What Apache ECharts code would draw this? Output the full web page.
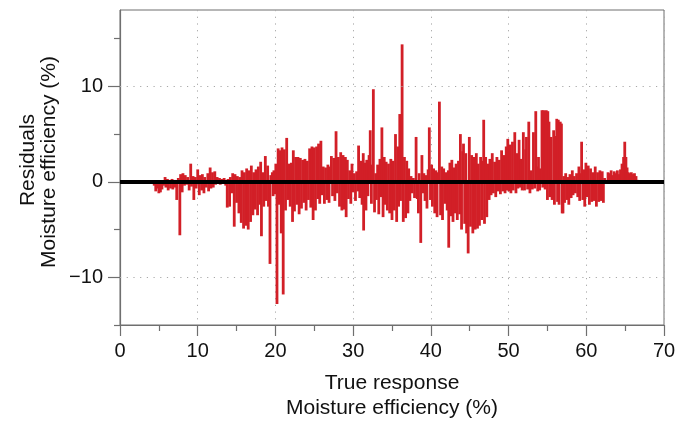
<!DOCTYPE html>
<html>
<head>
<meta charset="utf-8">
<script src="https://cdn.jsdelivr.net/npm/echarts@6/dist/echarts.min.js"></script>
<style>
  html, body { margin: 0; padding: 0; background: #fff; }
  #chart { width: 690px; height: 421px; }
</style>
</head>
<body>
<div id="chart"></div>
<script>
// Residual of each sample: [true response (%), residual (%)]
const residualPoints = [
  [4.4,-0.4],[4.6,-1.0],[4.8,-0.7],[5.0,-1.2],[5.2,-1.1],[5.4,-0.8],[5.6,-0.4],[5.8,0.5],[5.9,-0.6],[6.1,0.3],
  [6.2,-0.9],[6.4,0.2],[6.5,-0.7],[6.7,0.3],[6.8,-0.8],[7.0,0.2],[7.1,-0.6],[7.3,-1.9],[7.5,0.4],[7.7,-5.6],
  [7.8,0.8],[8.0,-1.1],[8.1,0.9],[8.3,-0.4],[8.4,0.7],[8.6,-0.3],[8.7,0.5],[8.9,-0.9],[9.1,1.9],[9.2,-0.5],
  [9.4,0.6],[9.5,-1.9],[9.7,0.5],[9.8,-0.7],[10.0,1.3],[10.2,-1.4],[10.3,0.7],[10.5,-0.9],[10.6,0.8],[10.8,-1.2],
  [10.9,0.5],[11.1,-0.6],[11.3,0.9],[11.4,-1.0],[11.6,1.5],[11.7,-0.7],[11.9,1.0],[12.0,-0.6],[12.2,1.1],[12.3,-0.3],
  [12.5,0.5],[12.6,-0.2],[12.8,0.4],[12.9,-0.3],[13.1,0.3],[13.2,-0.2],[13.4,0.4],[13.6,-0.4],[13.8,-2.7],[13.9,0.3],
  [14.1,-2.6],[14.2,0.5],[14.4,-1.2],[14.5,0.9],[14.7,-4.7],[14.8,0.8],[15.0,-2.2],[15.1,0.6],[15.3,-3.3],[15.4,0.5],
  [15.6,-4.3],[15.7,1.2],[15.9,-4.9],[16.0,1.0],[16.2,-4.6],[16.3,1.4],[16.5,-5.0],[16.6,1.2],[16.8,-4.2],[16.9,1.7],
  [17.1,-3.5],[17.2,1.0],[17.4,-2.9],[17.5,1.3],[17.7,-3.5],[17.8,1.6],[18.0,-2.4],[18.1,2.1],[18.2,-5.7],[18.4,1.0],
  [18.5,-2.6],[18.7,2.7],[18.8,-2.0],[19.0,1.7],[19.1,-2.6],[19.3,-8.6],[19.4,0.7],[19.6,1.0],[19.7,-1.5],
  [19.8,1.2],[19.9,-1.3],[20.05,1.9],[20.2,-12.8],[20.35,3.5],[20.5,-2.4],[20.6,3.3],[20.75,-5.4],[20.85,3.6],[21.0,-11.8],
  [21.15,3.4],[21.3,-3.0],[21.45,4.6],[21.6,-1.9],[21.75,1.9],[21.9,-2.6],[22.05,2.0],[22.2,-4.2],[22.3,3.3],[22.45,-3.1],
  [22.6,2.6],[22.75,-2.4],[22.9,2.6],[23.05,-3.4],[23.2,2.5],[23.35,-2.8],[23.5,2.3],[23.65,-2.2],[23.8,2.4],[23.95,-3.0],
  [24.1,2.2],[24.25,-1.9],[24.4,3.5],[24.55,-2.7],[24.7,3.7],[24.85,-4.0],[25.0,3.6],[25.15,-3.0],[25.3,3.7],[25.45,-1.8],
  [25.55,4.0],[25.7,-2.3],[25.85,4.3],[26.0,-1.4],[26.15,1.6],[26.3,-2.3],[26.45,1.5],[26.6,-1.9],[26.75,1.8],[26.9,-2.2],
  [27.05,1.6],[27.2,2.7],[27.35,-1.5],[27.5,2.5],[27.65,-2.0],[27.8,5.3],[27.95,-1.2],[28.1,2.6],[28.25,-2.6],[28.4,3.1],
  [28.55,-3.0],[28.7,2.8],[28.85,-2.9],[29.0,2.6],[29.1,-3.7],[29.25,2.3],[29.4,-1.8],[29.55,1.2],[29.7,-2.3],[29.85,1.9],
  [30.0,-1.1],[30.15,0.9],[30.3,-2.0],[30.45,1.1],[30.6,-1.0],[30.7,3.8],[30.85,-1.7],[31.0,2.2],[31.15,-2.4],[31.3,3.0],
  [31.35,-5.1],[31.5,2.0],[31.65,-3.0],[31.75,2.3],[31.9,-1.5],[32.05,2.8],[32.2,5.4],[32.35,-2.3],[32.45,1.8],[32.6,9.7],
  [32.75,-3.2],[32.9,0.9],[33.0,-1.9],[33.15,1.8],[33.3,-3.4],[33.45,2.4],[33.6,-1.6],[33.7,5.7],[33.85,-3.7],[34.0,2.6],
  [34.1,-2.4],[34.25,2.1],[34.4,-3.0],[34.55,1.9],[34.7,-3.3],[34.85,2.4],[35.0,-4.0],[35.15,2.2],[35.3,-3.0],
  [35.45,5.0],[35.6,-4.2],[35.75,3.7],[35.85,-2.6],[36.0,7.1],[36.1,-2.0],[36.3,14.4],[36.45,-4.2],[36.6,2.6],[36.75,-3.8],
  [36.9,2.2],[37.05,-3.3],[37.15,1.4],[37.3,-2.0],[37.45,0.6],[37.6,-1.2],[37.75,0.4],[37.9,-1.7],[38.1,4.7],[38.25,-1.8],
  [38.4,-3.3],[38.5,0.9],[38.7,-6.4],[38.85,2.8],[39.0,-1.2],[39.1,0.9],[39.25,-2.0],[39.4,0.7],[39.5,-2.8],[39.65,1.3],
  [39.8,5.7],[39.95,-1.9],[40.1,1.8],[40.2,-2.6],[40.35,1.4],[40.5,-3.3],[40.65,1.2],[40.8,-3.7],[40.95,1.0],[41.1,8.4],
  [41.25,-3.5],[41.4,1.6],[41.5,-4.0],[41.65,1.4],[41.8,-2.3],[41.95,1.0],[42.1,-3.0],[42.25,1.2],[42.3,-6.9],[42.45,2.0],
  [42.6,-3.6],[42.7,2.3],[42.85,-4.2],[43.0,1.5],[43.1,-3.3],[43.25,1.9],[43.4,-4.0],[43.55,2.2],[43.7,-3.4],[43.8,5.0],
  [43.95,-5.0],[44.1,3.2],[44.2,4.0],[44.35,-4.4],[44.5,3.0],[44.6,-5.4],[44.8,-7.5],[44.95,4.7],[45.1,-4.7],[45.25,2.8],
  [45.4,-5.4],[45.55,2.6],[45.7,-5.0],[45.85,3.0],[46.0,-4.9],[46.1,1.9],[46.25,-4.6],[46.4,2.6],[46.55,-4.0],[46.7,2.2],
  [46.8,6.5],[46.9,-4.4],[47.05,2.6],[47.2,-3.7],[47.35,1.9],[47.5,-1.9],[47.6,2.4],[47.75,-1.4],[47.9,3.0],[48.05,-1.2],
  [48.2,2.1],[48.35,-1.6],[48.5,2.6],[48.65,-1.0],[48.8,2.3],[48.95,-1.3],[49.1,3.3],[49.25,-1.0],[49.4,2.8],[49.55,-1.2],
  [49.7,3.7],[49.85,-0.9],[49.9,4.5],[50.05,-1.0],[50.2,3.9],[50.3,-1.2],[50.5,4.2],[50.6,-0.9],[50.8,5.2],[50.95,-1.2],
  [51.05,3.0],[51.2,-0.7],[51.35,4.4],[51.5,-0.6],[51.6,2.4],[51.75,-0.9],[51.9,5.2],[52.05,-0.9],[52.2,3.4],[52.3,4.7],
  [52.45,-0.8],[52.6,6.3],[52.75,-1.2],[52.9,1.2],[53.05,-0.8],[53.2,5.2],[53.35,-0.7],[53.5,7.4],[53.6,1.6],[53.75,-1.0],
  [53.85,2.6],[54.0,-0.9],[54.1,1.4],[54.3,7.5],[54.4,-0.6],[54.5,7.5],[54.65,7.4],[54.7,-0.8],[54.85,7.5],[55.0,-1.9],
  [55.05,7.4],[55.2,6.3],[55.3,-1.6],[55.45,4.7],[55.6,-1.9],[55.8,5.4],[55.9,-2.4],[56.05,4.8],[56.2,6.6],[56.3,-2.1],
  [56.4,6.5],[56.5,-2.4],[56.65,6.3],[56.8,6.1],[56.9,-3.3],[57.0,-3.3],[57.1,0.6],[57.2,-2.2],[57.35,0.9],[57.5,-1.9],
  [57.6,0.5],[57.75,-2.4],[57.9,0.8],[58.05,-1.7],[58.2,1.2],[58.3,-1.4],[58.45,0.6],[58.6,-1.2],[58.75,0.9],[58.9,-1.6],
  [59.05,1.6],[59.15,-2.0],[59.3,0.9],[59.4,4.2],[59.55,-1.9],[59.7,1.3],[59.8,-2.6],[59.95,2.0],[60.1,-1.6],[60.25,1.7],
  [60.4,-2.4],[60.55,1.4],[60.7,-2.1],[60.85,1.0],[61.0,-2.0],[61.15,1.6],[61.3,-2.6],[61.45,1.0],[61.6,-2.1],[61.75,1.2],
  [61.9,-2.0],[62.05,1.1],[62.2,-2.2],[62.35,0.4],[62.6,0.2],[62.8,1.0],[63.0,0.9],[63.2,1.2],[63.4,0.7],[63.6,1.1],
  [63.8,0.9],[64.0,1.2],[64.2,0.8],[64.4,1.3],[64.6,1.9],[64.8,2.6],[64.95,4.2],[65.1,2.6],[65.25,1.5],[65.4,1.0],
  [65.6,0.9],[65.8,1.0],[66.0,0.8],[66.2,0.9],[66.4,0.6],[66.6,0.2]
];

// Axis ranges and tick positions
const xRange = [0, 70];
const xStep = 10;
const yRange = [-15, 18];
const yMajorTicks = [-10, 0, 10];
const yMinorTicks = [-15, -5, 5, 15];
const xTitleLines = ['True response', 'Moisture efficiency (%)'];
const yTitleLines = ['Residuals', 'Moisture efficiency (%)'];

const FONT = '"Liberation Sans", Arial, Helvetica, sans-serif';
const AXIS_GREY = '#6f6f6f';
const GRID_DOTS = { color: '#a8a8a8', width: 1, type: [1.2, 5.5] };

const chart = echarts.init(document.getElementById('chart'), null, { renderer: 'canvas' });

const minus = v => String(v).replace('-', '\u2212');

chart.setOption({
  animation: false,
  backgroundColor: '#fff',
  grid: {
    left: 120, right: 26, top: 10, bottom: 96,
    show: true, borderColor: AXIS_GREY, borderWidth: 1, backgroundColor: 'transparent'
  },
  xAxis: {
    type: 'value', min: xRange[0], max: xRange[1], interval: xStep,
    axisLine: { show: true, onZero: false, lineStyle: { color: AXIS_GREY, width: 1.2 } },
    axisTick: { show: true, inside: false, length: 11, lineStyle: { color: AXIS_GREY, width: 1.2 } },
    minorTick: { show: true, splitNumber: 2, length: 6, lineStyle: { color: AXIS_GREY, width: 1.2 } },
    axisLabel: { margin: 16, fontSize: 20, color: '#111', fontFamily: FONT },
    splitLine: { show: true, lineStyle: GRID_DOTS }
  },
  yAxis: [
    {
      type: 'value', min: yRange[0], max: yRange[1],
      axisLine: { show: true, onZero: false, lineStyle: { color: AXIS_GREY, width: 1.2 } },
      axisTick: { show: true, length: 12, customValues: yMajorTicks, lineStyle: { color: AXIS_GREY, width: 1.2 } },
      axisLabel: { margin: 17, fontSize: 20, color: '#111', fontFamily: FONT, customValues: yMajorTicks, formatter: minus },
      splitLine: { show: false }
    },
    {
      type: 'value', min: yRange[0], max: yRange[1], position: 'left',
      axisLine: { show: false, onZero: false },
      axisTick: { show: true, length: 6, customValues: yMinorTicks, lineStyle: { color: AXIS_GREY, width: 1.2 } },
      axisLabel: { show: false },
      splitLine: { show: false }
    }
  ],
  series: [
    {
      type: 'bar',
      data: residualPoints,
      barWidth: 2.8,
      itemStyle: { color: '#d21f27' },
      silent: true,
      markLine: {
        silent: true, symbol: 'none', label: { show: false },
        data: yMajorTicks.filter(v => v !== 0).map(v => ({ yAxis: v, lineStyle: GRID_DOTS })).concat([
          { yAxis: 0, lineStyle: { color: '#000', width: 4, type: 'solid' } }
        ])
      }
    }
  ],
  graphic: [
    { type: 'text', x: 392, y: 383, style: { text: xTitleLines[0], fontSize: 21, fontFamily: FONT, fill: '#111', align: 'center', verticalAlign: 'middle' } },
    { type: 'text', x: 392, y: 408, style: { text: xTitleLines[1], fontSize: 21, fontFamily: FONT, fill: '#111', align: 'center', verticalAlign: 'middle' } },
    { type: 'text', x: 28, y: 160, rotation: Math.PI / 2, style: { text: yTitleLines[0], fontSize: 21, fontFamily: FONT, fill: '#111', align: 'center', verticalAlign: 'middle' } },
    { type: 'text', x: 49, y: 162, rotation: Math.PI / 2, style: { text: yTitleLines[1], fontSize: 21, fontFamily: FONT, fill: '#111', align: 'center', verticalAlign: 'middle' } }
  ]
});
</script>
</body>
</html>
